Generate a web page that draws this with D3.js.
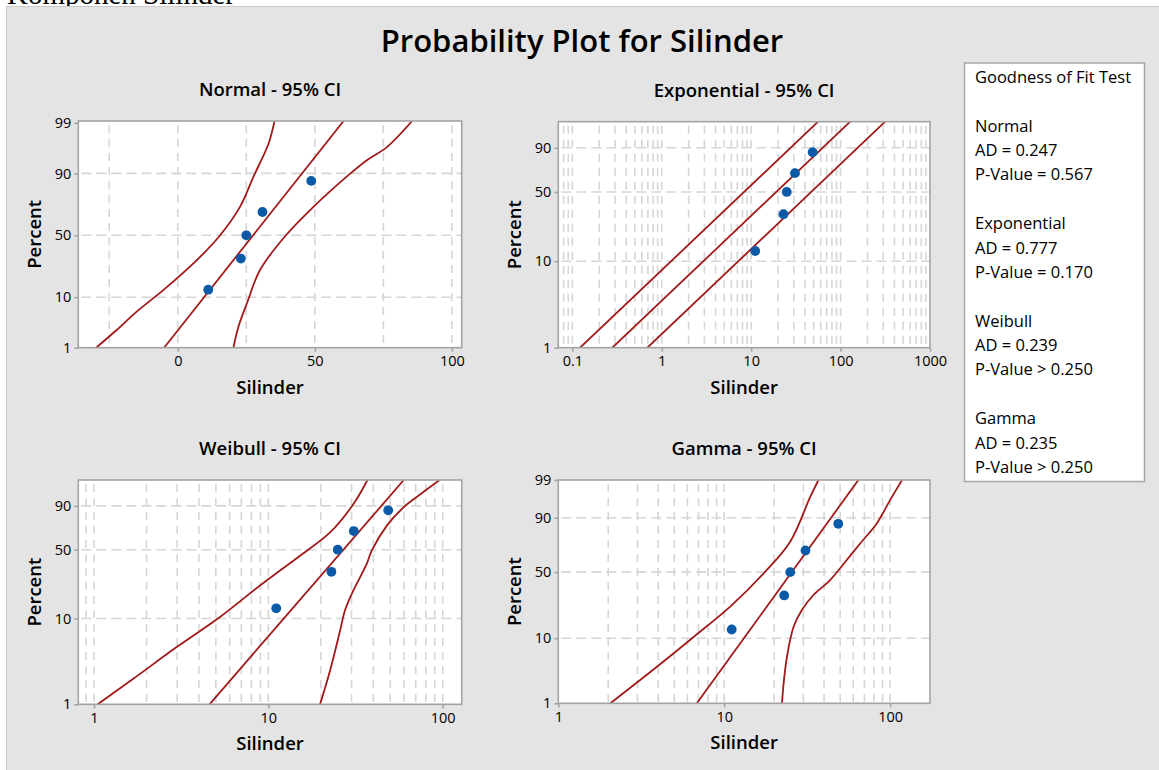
<!DOCTYPE html>
<html>
<head>
<meta charset="utf-8">
<script src="https://cdn.jsdelivr.net/npm/d3@7"></script>
<style>
	body { margin: 0; background: #ffffff; }
	text { font-family: "Segoe UI", "Open Sans", sans-serif; fill: #000; }
</style>
</head>
<body>
<div id="chart"></div>
<script>

// Sample values (Silinder) and their median ranks in percent
var silinder = [11.1, 23.0, 25.0, 30.9, 48.7];
var percentRank = [13.0, 31.5, 50.0, 68.5, 87.0];

// Tick labels
var pctTicksFull = [1, 10, 50, 90, 99];
var pctTicksShort = [1, 10, 50, 90];
var pctGrid = [10, 50, 90];
var normalXTicks = [0, 50, 100];
var normalXGrid = [-25, 0, 25, 50, 75, 100];
var expXTicks = [0.1, 1, 10, 100, 1000];
var weibullXTicks = [1, 10, 100];
var gammaXTicks = [1, 10, 100];

// Fitted lines and 95% CI curves as [Silinder, Percent]
var normalFit = [[-5.0, 1], [60.5, 99.1]];
var normalCiLeft = [[-29.8, 1], [-22.3, 2.5], [-15.0, 5.7], [-5.3, 12.8], [5.7, 28.0], [15.0, 48.8], [22.7, 72.2], [27.6, 88.7], [33.1, 97.1], [35.3, 99.1]];
var normalCiRight = [[20.3, 1], [22.1, 2.9], [25.2, 7.9], [30.0, 23.6], [39.0, 48.8], [49.5, 72.2], [62.9, 89.9], [69.0, 94.0], [76.3, 96.6], [85.5, 99.1]];

var expFit = [[0.28, 1], [128, 99.07]];
var expCiLeft = [[0.122, 1], [56, 99.07]];
var expCiRight = [[0.69, 1], [315, 99.07]];

var weibullFit = [[4.6, 1], [59.8, 99.07]];
var weibullCiLeft = [[1.05, 1], [1.68, 2.0], [2.98, 4.7], [5.28, 10.4], [8.96, 22.9], [15.2, 44.5], [22.6, 67.1], [30.7, 91.0], [37.0, 99.07]];
var weibullCiRight = [[19.8, 1], [22.6, 2.5], [25.8, 7.3], [27.5, 12.3], [30.7, 20.2], [36.6, 37.3], [39.1, 48.9], [47.7, 73.6], [59.4, 88.9], [74.1, 95.7], [96, 99.07]];

var gammaFit = [[6.84, 1], [64.4, 99]];
var gammaCiLeft = [[2.06, 1], [3.93, 3.9], [6.54, 10.4], [10.87, 24.2], [17.3, 49.0], [25.0, 75.4], [33.0, 96.7], [37.0, 99]];
var gammaCiRight = [[22.3, 1], [22.8, 2.1], [23.9, 5.5], [26.2, 14.1], [29.4, 22.2], [34.5, 31.8], [43.5, 43.3], [54.8, 60.5], [66.0, 74.1], [83.1, 87.2], [100, 96.0], [118, 99]];

// Goodness of fit table
var gofDists = ["Normal", "Exponential", "Weibull", "Gamma"];
var gofAD = ["0.247", "0.777", "0.239", "0.235"];
var gofP = ["= 0.567", "= 0.170", "> 0.250", "> 0.250"];


// Probability scale helpers
function invert(cdf, p, lo, hi) {
	for (var i = 0; i < 80; i++) {
		var m = (lo + hi) / 2;
		if (cdf(m) < p) lo = m; else hi = m;
	}
	return (lo + hi) / 2;
}
function normCdf(z) {
	var t = 1 / (1 + 0.3275911 * Math.abs(z) / Math.SQRT2);
	var e = 1 - (((((1.061405429 * t - 1.453152027) * t) + 1.421413741) * t - 0.284496736) * t + 0.254829592) * t * Math.exp(-z * z / 2);
	return z >= 0 ? (1 + e) / 2 : (1 - e) / 2;
}
function gammaCdf5(x) {
	var s = 1 + x + x * x / 2 + x * x * x / 6 + x * x * x * x / 24;
	return 1 - Math.exp(-x) * s;
}
var tfNormal = function(p) { return invert(normCdf, p, -8, 8); };
var tfWeibull = function(p) { return Math.log(-Math.log(1 - p)); };
var tfGamma = function(p) { return Math.log(invert(gammaCdf5, p, 1e-6, 200)); };

function makeProbY(tf, lo, hi, top, bottom) {
	var lin = d3.scaleLinear().domain([tf(lo / 100), tf(hi / 100)]).range([bottom, top]);
	var y = function(p) { return lin(tf(p / 100)); };
	y.lin = lin;
	return y;
}

function logGrid(lo, hi) {
	var out = [];
	for (var e = -3; e <= 4; e++) {
		for (var k = 1; k <= 9; k++) {
			var v = k * Math.pow(10, e);
			if (v > lo * 1.01 && v < hi * 0.99) out.push(v);
		}
	}
	return out;
}


// Drawing parameters
var W = 1159, H = 770;
var curveColor = "#a11a1a";
var pointColor = "#0b5aa8";
var gridColor = "#d6d6d6";
var frameColor = "#a3a3a3";
var labelFont = "18.5px";
var labelWeight = 600;

var svg = d3.select("#chart").append("svg")
	.attr("width", W).attr("height", H);

svg.append("text")
	.attr("x", 7).attr("y", 3.5)
	.style("font-family", "'Liberation Serif', 'Times New Roman', serif")
	.style("font-size", "29px")
	.text("Komponen Silinder");

svg.append("rect")
	.attr("x", 6.5).attr("y", 6.5)
	.attr("width", W).attr("height", H)
	.attr("fill", "#e4e4e4")
	.attr("stroke", "#c9c9c9");

svg.append("text")
	.attr("x", 582).attr("y", 51.5)
	.attr("text-anchor", "middle")
	.style("font-size", "31px")
	.style("font-weight", labelWeight)
	.text("Probability Plot for Silinder");


var panels = [
	{ title: "Normal - 95% CI", x0: 78.3, x1: 461.7, y0: 121, y1: 347.7,
	  x: d3.scaleLinear().domain([-36.3, 103.6]), xTicks: normalXTicks, xGrid: normalXGrid,
	  tf: tfNormal, pHi: 99.1, yTicks: pctTicksFull,
	  fit: normalFit, ci: [normalCiLeft, normalCiRight] },
	{ title: "Exponential - 95% CI", x0: 558.3, x1: 930, y0: 121.7, y1: 347.7,
	  x: d3.scaleLog().domain([0.0697, 1000]), xTicks: expXTicks, xGrid: logGrid(0.0697, 1000),
	  tf: tfWeibull, pHi: 99.07, yTicks: pctTicksShort,
	  fit: expFit, ci: [expCiLeft, expCiRight] },
	{ title: "Weibull - 95% CI", x0: 78.3, x1: 461.7, y0: 480, y1: 704.3,
	  x: d3.scaleLog().domain([0.813, 128.5]), xTicks: weibullXTicks, xGrid: logGrid(0.813, 128.5),
	  tf: tfWeibull, pHi: 99.07, yTicks: pctTicksShort,
	  fit: weibullFit, ci: [weibullCiLeft, weibullCiRight] },
	{ title: "Gamma - 95% CI", x0: 558.3, x1: 930, y0: 480, y1: 703.3,
	  x: d3.scaleLog().domain([1, 174]), xTicks: gammaXTicks, xGrid: logGrid(1, 174),
	  tf: tfGamma, pHi: 99, yTicks: pctTicksFull,
	  fit: gammaFit, ci: [gammaCiLeft, gammaCiRight] }
];

panels.forEach(function(p, idx) {

	var x = p.x.range([p.x0, p.x1]);
	var y = makeProbY(p.tf, 1, p.pHi, p.y0, p.y1);
	var cx = (p.x0 + p.x1) / 2, cy = (p.y0 + p.y1) / 2;

	var g = svg.append("g");

	// Plot area
	g.append("rect")
		.attr("x", p.x0).attr("y", p.y0)
		.attr("width", p.x1 - p.x0).attr("height", p.y1 - p.y0)
		.attr("fill", "#ffffff");

	// Grid
	g.selectAll(".vgrid").data(p.xGrid).enter().append("line")
		.attr("x1", function(d) { return x(d); }).attr("x2", function(d) { return x(d); })
		.attr("y1", p.y0 + 4).attr("y2", p.y1)
		.attr("stroke", gridColor).attr("stroke-width", 1.6)
		.attr("stroke-dasharray", "8,6");

	g.selectAll(".hgrid").data(pctGrid).enter().append("line")
		.attr("x1", p.x0 + 3).attr("x2", p.x1)
		.attr("y1", function(d) { return y(d); }).attr("y2", function(d) { return y(d); })
		.attr("stroke", gridColor).attr("stroke-width", 1.6)
		.attr("stroke-dasharray", "10,5");

	// Curves, clipped to the plot area
	var clipId = "clip" + idx;
	g.append("clipPath").attr("id", clipId).append("rect")
		.attr("x", p.x0).attr("y", p.y0)
		.attr("width", p.x1 - p.x0).attr("height", p.y1 - p.y0);

	var line = d3.line()
		.x(function(d) { return x(d[0]); })
		.y(function(d) { return y(d[1]); })
		.curve(d3.curveCatmullRom.alpha(0.5));

	var gc = g.append("g").attr("clip-path", "url(#" + clipId + ")");
	[p.ci[0], p.fit, p.ci[1]].forEach(function(c) {
		gc.append("path")
			.attr("d", line(c))
			.attr("fill", "none")
			.attr("stroke", curveColor)
			.attr("stroke-width", 1.8);
	});

	// Points
	g.selectAll(".pt").data(silinder).enter().append("circle")
		.attr("cx", function(d) { return x(d); })
		.attr("cy", function(d, i) { return y(percentRank[i]); })
		.attr("r", 4.9)
		.attr("fill", pointColor);

	// Frame
	g.append("rect")
		.attr("x", p.x0).attr("y", p.y0)
		.attr("width", p.x1 - p.x0).attr("height", p.y1 - p.y0)
		.attr("fill", "none")
		.attr("stroke", frameColor).attr("stroke-width", 1.6);

	// Axes
	var yAxis = d3.axisLeft(y.lin)
		.tickValues(p.yTicks.map(function(v) { return p.tf(v / 100); }))
		.tickFormat(function(d, i) { return p.yTicks[i]; })
		.tickSizeOuter(0).tickSize(4).tickPadding(3);
	var gy = g.append("g").attr("transform", "translate(" + p.x0 + ",0)").call(yAxis);

	var xAxis = d3.axisBottom(x)
		.tickValues(p.xTicks)
		.tickFormat(function(d) { return String(d); })
		.tickSizeOuter(0).tickSize(4).tickPadding(4);
	var gx = g.append("g").attr("transform", "translate(0," + p.y1 + ")").call(xAxis);

	[gx, gy].forEach(function(a) {
		a.select(".domain").remove();
		a.selectAll(".tick line").attr("stroke", frameColor).attr("stroke-width", 1.6);
		a.selectAll(".tick text")
			.style("font-family", "'Segoe UI', 'Open Sans', sans-serif")
			.style("font-size", "14.5px")
			.attr("fill", "#000");
	});

	// Titles
	g.append("text")
		.attr("x", cx).attr("y", p.y0 - 25)
		.attr("text-anchor", "middle")
		.style("font-size", labelFont)
		.style("font-weight", labelWeight)
		.text(p.title);

	g.append("text")
		.attr("x", cx).attr("y", p.y1 + 46)
		.attr("text-anchor", "middle")
		.style("font-size", labelFont)
		.style("font-weight", labelWeight)
		.text("Silinder");

	g.append("text")
		.attr("transform", "translate(" + (p.x0 - 37) + "," + cy + ") rotate(-90)")
		.attr("text-anchor", "middle")
		.style("font-size", labelFont)
		.style("font-weight", labelWeight)
		.text("Percent");
});


// Goodness of fit box
var legend = svg.append("g");
legend.append("rect")
	.attr("x", 964.5).attr("y", 63)
	.attr("width", 180).attr("height", 418.5)
	.attr("fill", "#ffffff")
	.attr("stroke", "#a6a6a6").attr("stroke-width", 1.5);

legend.append("text")
	.attr("x", 975).attr("y", 83)
	.style("font-size", "16.5px")
	.text("Goodness of Fit Test");

gofDists.forEach(function(d, i) {
	var yb = 131.5 + i * 97.5;
	legend.append("text").attr("x", 975).attr("y", yb).style("font-size", "16.5px").text(d);
	legend.append("text").attr("x", 975).attr("y", yb + 24.5).style("font-size", "16.5px").text("AD = " + gofAD[i]);
	legend.append("text").attr("x", 975).attr("y", yb + 48.5).style("font-size", "16.5px").text("P-Value " + gofP[i]);
});

</script>
</body>
</html>
